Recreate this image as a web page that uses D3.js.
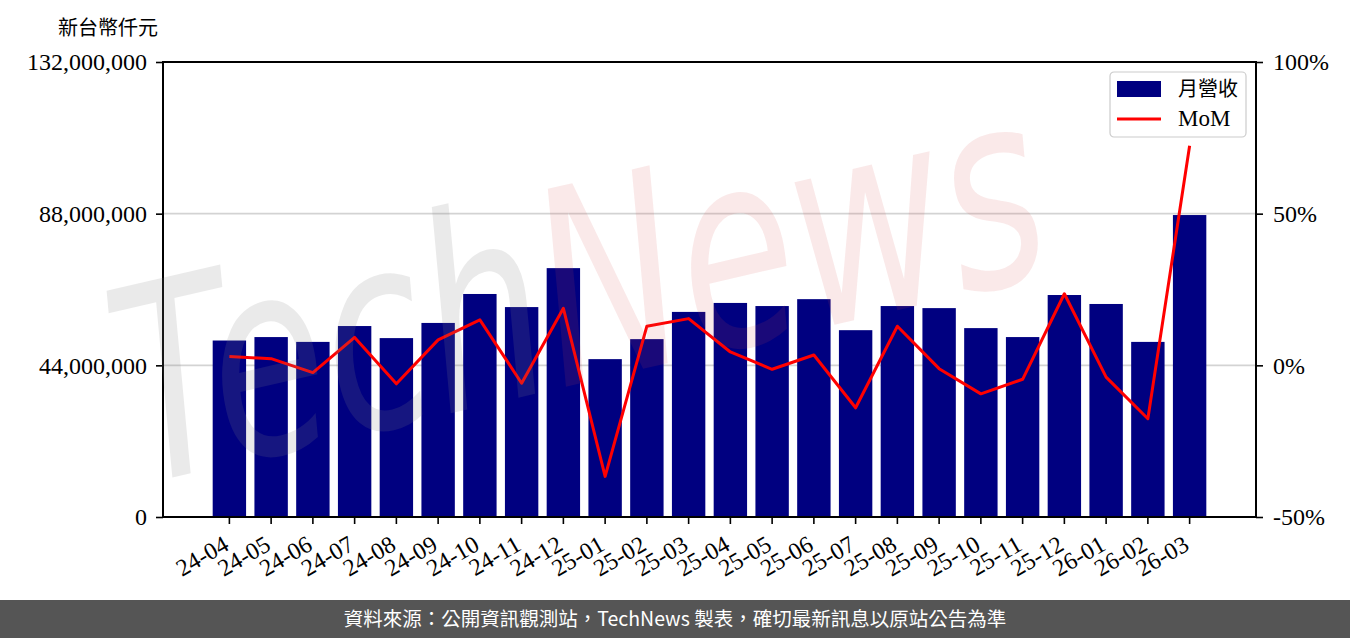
<!DOCTYPE html>
<html>
<head>
<meta charset="utf-8">
<script src="https://cdn.jsdelivr.net/npm/d3@7"></script>
<style>
  body { margin: 0; background: #fff; }
  svg { display: block; }
</style>
</head>
<body>
<svg id="chart" width="1350" height="638"></svg>
<script>
// monthly revenue (NT$ thousand) and month-over-month change (%)
const months = [
  "24-04", "24-05", "24-06", "24-07", "24-08", "24-09", "24-10", "24-11", "24-12",
  "25-01", "25-02", "25-03", "25-04", "25-05", "25-06", "25-07", "25-08", "25-09",
  "25-10", "25-11", "25-12", "26-01", "26-02", "26-03"
];
const revenue = [
  51200000, 52200000, 50800000, 55400000, 51900000, 56300000, 64700000, 60900000, 72200000,
  45800000, 51600000, 59500000, 62100000, 61200000, 63200000, 54200000, 61200000, 60600000,
  54800000, 52200000, 64400000, 61800000, 50800000, 87600000
];
const mom = [
  2.9, 2.2, -2.4, 9.2, -6.1, 8.4, 15.0, -5.9, 18.8,
  -36.6, 12.9, 15.4, 4.4, -1.3, 3.4, -14.0, 12.9, -1.1,
  -9.4, -4.6, 23.6, -3.9, -17.6, 72.4
];
const leftTicks = [0, 44000000, 88000000, 132000000];
const rightTicks = [-50, 0, 50, 100];

const NAVY = "#000080";
const RED = "#ff0000";
const serif = "'Liberation Serif', 'Times New Roman', serif";
const cjk = "'Noto Sans CJK TC', 'Noto Sans', sans-serif";

const width = 1350;
const height = 638;
const margin = { top: 62, right: 94, bottom: 121, left: 163 };
const innerW = width - margin.left - margin.right;
const innerH = height - margin.top - margin.bottom;

const svg = d3.select("#chart");

const g = svg.append("g").attr("transform", `translate(${margin.left},${margin.top})`);

const x = d3.scaleBand()
  .domain(months)
  .range([0, innerW])
  .paddingInner(0.2)
  .paddingOuter(1.19);

const yLeft = d3.scaleLinear().domain([0, 132000000]).range([innerH, 0]);
const yRight = d3.scaleLinear().domain([-50, 100]).range([innerH, 0]);

// grid
g.append("g")
  .selectAll("line")
  .data(leftTicks)
  .join("line")
  .attr("x1", 0)
  .attr("x2", innerW)
  .attr("y1", (d) => yLeft(d))
  .attr("y2", (d) => yLeft(d))
  .attr("stroke", "#d3d3d3")
  .attr("stroke-width", 1.6);

// bars
g.append("g")
  .selectAll("rect")
  .data(revenue)
  .join("rect")
  .attr("x", (d, i) => x(months[i]))
  .attr("y", (d) => yLeft(d))
  .attr("width", x.bandwidth())
  .attr("height", (d) => innerH - yLeft(d))
  .attr("fill", NAVY);

// mom line
const line = d3.line()
  .x((d, i) => x(months[i]) + x.bandwidth() / 2)
  .y((d) => yRight(d));

g.append("path")
  .datum(mom)
  .attr("d", line)
  .attr("fill", "none")
  .attr("stroke", RED)
  .attr("stroke-width", 3)
  .attr("stroke-linejoin", "round");

// watermark
const wm = svg.append("text")
  .attr("transform", "translate(140,485) rotate(-13) scale(0.7,1)")
  .attr("font-family", "'DejaVu Sans', sans-serif")
  .attr("font-style", "italic")
  .attr("font-size", 270);
wm.append("tspan").text("Tech").attr("fill", "#808080").attr("fill-opacity", 0.17);
wm.append("tspan").text("News").attr("fill", "#d84a4a").attr("fill-opacity", 0.12);

// axes
const axisL = d3.axisLeft(yLeft)
  .tickValues(leftTicks)
  .tickFormat((d) => d3.format(",")(d))
  .tickSize(7)
  .tickPadding(9);

const axisR = d3.axisRight(yRight)
  .tickValues(rightTicks)
  .tickFormat((d) => d + "%")
  .tickSize(7)
  .tickPadding(10);

const axisB = d3.axisBottom(x).tickSize(7).tickFormat("");

const gl = g.append("g").call(axisL);
const gr = g.append("g").attr("transform", `translate(${innerW},0)`).call(axisR);
const gb = g.append("g").attr("transform", `translate(0,${innerH})`).call(axisB);

[gl, gr, gb].forEach((a) => {
  a.select(".domain").remove();
  a.selectAll(".tick line").attr("stroke", "#000").attr("stroke-width", 1.6);
  a.selectAll(".tick text")
    .attr("font-family", serif)
    .attr("font-size", 24)
    .attr("fill", "#000");
});

// rotated month labels
gb.selectAll(".tick")
  .append("text")
  .attr("transform", "translate(1,32) rotate(-30)")
  .attr("text-anchor", "end")
  .attr("font-family", serif)
  .attr("font-size", 24)
  .attr("fill", "#000")
  .text((d) => d);

// frame
g.append("rect")
  .attr("x", 0)
  .attr("y", 0)
  .attr("width", innerW)
  .attr("height", innerH)
  .attr("fill", "none")
  .attr("stroke", "#000")
  .attr("stroke-width", 2);

// unit label
svg.append("text")
  .attr("x", 58)
  .attr("y", 35)
  .attr("font-family", cjk)
  .attr("font-size", 20)
  .attr("fill", "#000")
  .text("新台幣仟元");

// legend
const legend = svg.append("g").attr("transform", "translate(1110,72)");
legend.append("rect")
  .attr("width", 136)
  .attr("height", 65)
  .attr("rx", 4)
  .attr("fill", "#fff")
  .attr("fill-opacity", 0.8)
  .attr("stroke", "#cccccc")
  .attr("stroke-width", 1.2);
legend.append("rect")
  .attr("x", 7)
  .attr("y", 9)
  .attr("width", 44)
  .attr("height", 16)
  .attr("fill", NAVY);
legend.append("line")
  .attr("x1", 7)
  .attr("x2", 51)
  .attr("y1", 47)
  .attr("y2", 47)
  .attr("stroke", RED)
  .attr("stroke-width", 3);
legend.append("text")
  .attr("x", 68)
  .attr("y", 24)
  .attr("font-family", cjk)
  .attr("font-size", 20)
  .text("月營收");
legend.append("text")
  .attr("x", 68)
  .attr("y", 54)
  .attr("font-family", serif)
  .attr("font-size", 23)
  .text("MoM");

// footer
svg.append("rect")
  .attr("x", 0)
  .attr("y", 600)
  .attr("width", width)
  .attr("height", 38)
  .attr("fill", "#555555");
svg.append("text")
  .attr("x", width / 2)
  .attr("y", 626)
  .attr("text-anchor", "middle")
  .attr("font-family", cjk)
  .attr("font-size", 19.5)
  .attr("fill", "#fff")
  .text("資料來源：公開資訊觀測站，TechNews 製表，確切最新訊息以原站公告為準");
</script>
</body>
</html>
